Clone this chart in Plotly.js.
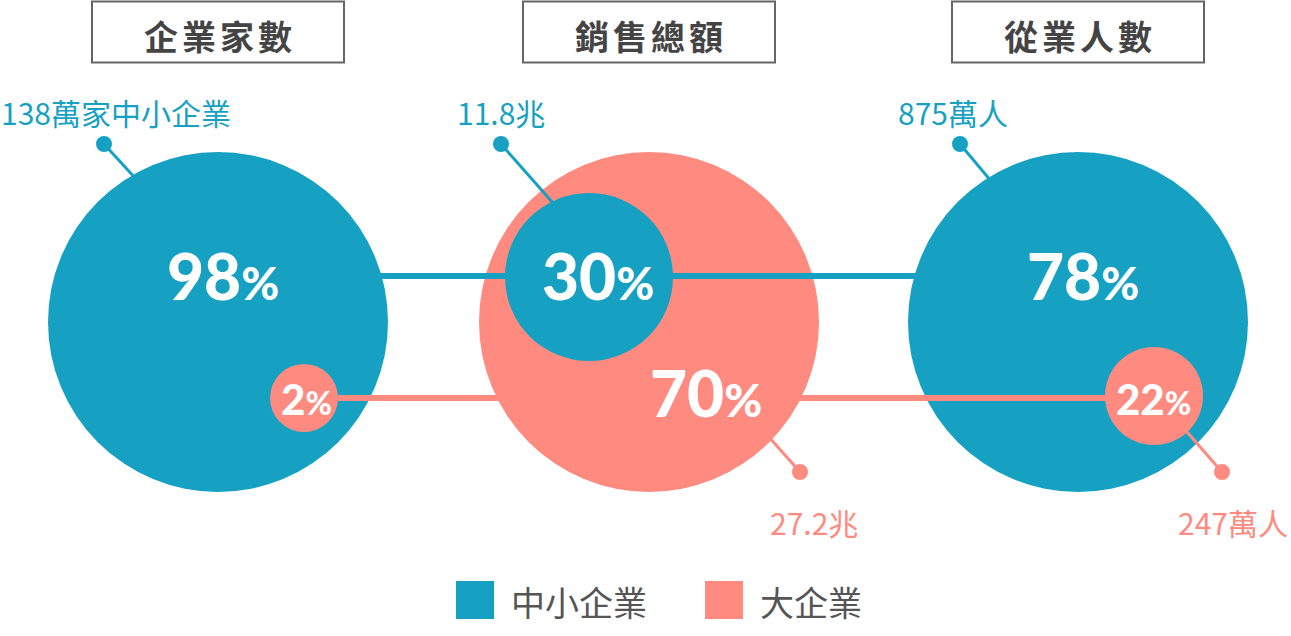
<!DOCTYPE html>
<html>
<head>
<meta charset="utf-8">
<script src="https://cdn.plot.ly/plotly-3.0.1.min.js"></script>
<style>html,body{margin:0;padding:0;background:#fff;}#chart{width:1291px;height:636px;}</style>
</head>
<body>
<div id="chart"></div>
<script>
// ---------- data ----------
const metrics   = ['企業家數', '銷售總額', '從業人數'];
const smePct    = [98, 30, 78];          // 中小企業 share (%)
const largePct  = [2, 70, 22];           // 大企業 share (%)
const smeLabel  = ['138萬家中小企業', '11.8兆', '875萬人'];
const largeLabel = ['', '27.2兆', '247萬人'];
const seriesNames = ['中小企業', '大企業'];

// ---------- style / layout (positions in page pixels) ----------
const TEAL = '#16a1c3', SALMON = '#ff8a80';
const colors = [TEAL, SALMON];
const colX = [218, 649, 1078];           // column centres
const bigY = 322, bigR = 170;
// small circle: centre and radius per column
const smallPos = [[304, 398, 34], [589, 277, 84], [1154, 396, 49]];
// value text centres (big, small)
const bigTxt = [[223, 275], [706, 392], [1083, 275]];
const smallTxt = [[306, 399], [598, 275], [1153, 399]];
// callouts: [dotX, dotY, edgeX, edgeY, labelX, labelY]
const smeCall = [[104, 144, 136, 179, 116, 112], [501, 144, 553, 203, 501, 112], [960, 144, 991, 181, 953, 112]];
const largeCall = [null, [800, 472, 768, 436, 814, 522], [1222, 472, 1187, 432, 1233, 522]];
const lineY = [276, 398];                // connecting lines (sme, large)

const shapes = [], ann = [];
const pctText = (v, big) => v + '<span style="font-size:' + (big ? 46 : 32) + 'px">%</span>';

// title boxes
metrics.forEach((m, i) => {
  shapes.push({type: 'rect', xref: 'x', yref: 'y', x0: colX[i] - 126, x1: colX[i] + 126, y0: 1.5, y1: 62.5,
    line: {color: '#666', width: 2}, fillcolor: 'rgba(0,0,0,0)', layer: 'above'});
  ann.push({x: colX[i] + 2, y: 35, xref: 'x', yref: 'y', showarrow: false,
    text: '<span style="letter-spacing:4px">' + m + '</span>',
    font: {family: '"Noto Sans CJK TC", "Noto Sans CJK SC", sans-serif', size: 34, color: '#444', weight: 700}});
});

// big circles
metrics.forEach((m, i) => {
  const bigIsSme = smePct[i] >= largePct[i];
  shapes.push({type: 'circle', xref: 'x', yref: 'y', x0: colX[i] - bigR, x1: colX[i] + bigR, y0: bigY - bigR, y1: bigY + bigR,
    fillcolor: bigIsSme ? TEAL : SALMON, line: {width: 0}, layer: 'above'});
});
// connecting lines
lineY.forEach((y, k) => {
  const xs = metrics.map((m, i) => {
    const bigIsSme = smePct[i] >= largePct[i];
    const isBig = (k === 0) === bigIsSme;
    return isBig ? colX[i] : smallPos[i][0];
  });
  shapes.push({type: 'line', xref: 'x', yref: 'y', x0: xs[0], x1: xs[xs.length - 1], y0: y, y1: y,
    line: {color: colors[k], width: 6}, layer: 'above'});
});
// small circles
metrics.forEach((m, i) => {
  const bigIsSme = smePct[i] >= largePct[i];
  const [cx, cy, r] = smallPos[i];
  shapes.push({type: 'circle', xref: 'x', yref: 'y', x0: cx - r, x1: cx + r, y0: cy - r, y1: cy + r,
    fillcolor: bigIsSme ? SALMON : TEAL, line: {width: 0}, layer: 'above'});
});
// callouts
[smeCall, largeCall].forEach((calls, k) => {
  const labels = k === 0 ? smeLabel : largeLabel;
  calls.forEach((c, i) => {
    if (!c || !labels[i]) return;
    const [dx, dy, ex, ey, lx, ly] = c;
    shapes.push({type: 'line', xref: 'x', yref: 'y', x0: dx, y0: dy, x1: ex, y1: ey,
      line: {color: colors[k], width: 3}, layer: 'above'});
    shapes.push({type: 'circle', xref: 'x', yref: 'y', x0: dx - 8, x1: dx + 8, y0: dy - 8, y1: dy + 8,
      fillcolor: colors[k], line: {width: 0}, layer: 'above'});
    ann.push({x: lx, y: ly, xref: 'x', yref: 'y', showarrow: false, text: labels[i],
      font: {family: '"Noto Sans CJK TC", "Noto Sans CJK SC", sans-serif', size: 30, color: colors[k]}});
  });
});
// percentage texts
const pctFont = (s) => ({family: 'Lato, "DejaVu Sans", sans-serif', size: s, color: '#fff', weight: 900});
metrics.forEach((m, i) => {
  const bigIsSme = smePct[i] >= largePct[i];
  const bigV = bigIsSme ? smePct[i] : largePct[i];
  const smallV = bigIsSme ? largePct[i] : smePct[i];
  const smallIsLarge = smallPos[i][2] > 60;
  ann.push({x: bigTxt[i][0], y: bigTxt[i][1], xref: 'x', yref: 'y', showarrow: false, text: pctText(bigV, true), font: pctFont(64)});
  ann.push({x: smallTxt[i][0], y: smallTxt[i][1], xref: 'x', yref: 'y', showarrow: false,
    text: smallIsLarge ? pctText(smallV, true) : pctText(smallV, false), font: pctFont(smallIsLarge ? 64 : 42)});
});
// legend
const legX = [456, 705];
seriesNames.forEach((s, k) => {
  shapes.push({type: 'rect', xref: 'x', yref: 'y', x0: legX[k], x1: legX[k] + 38, y0: 581, y1: 619,
    fillcolor: colors[k], line: {width: 0}, layer: 'above'});
  ann.push({x: legX[k] + 53, y: 601, xref: 'x', yref: 'y', xanchor: 'left', showarrow: false, text: s,
    font: {family: '"Noto Sans CJK TC", "Noto Sans CJK SC", sans-serif', size: 34, color: '#555'}});
});

const layout = {
  width: 1291, height: 636,
  margin: {l: 0, r: 0, t: 0, b: 0},
  paper_bgcolor: '#fff', plot_bgcolor: '#fff',
  xaxis: {range: [0, 1291], visible: false, fixedrange: true},
  yaxis: {range: [636, 0], visible: false, fixedrange: true},
  showlegend: false,
  shapes: shapes,
  annotations: ann
};
Plotly.newPlot('chart', [{x: [], y: [], type: 'scatter', hoverinfo: 'skip'}], layout, {staticPlot: true, displayModeBar: false});
</script>
</body>
</html>
